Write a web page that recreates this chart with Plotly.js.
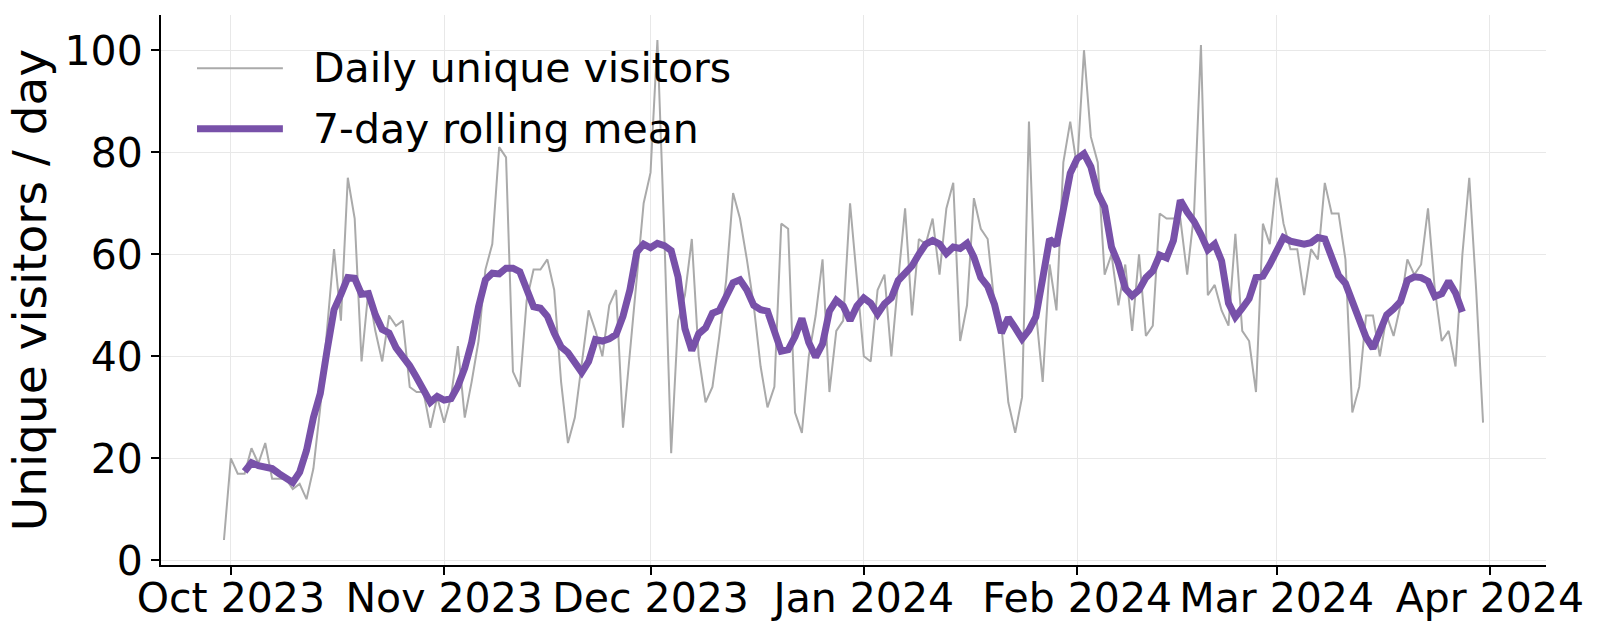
<!DOCTYPE html>
<html>
<head>
<meta charset="utf-8">
<script src="https://cdn.plot.ly/plotly-3.0.1.min.js"></script>
<style>
  html, body { margin: 0; padding: 0; background: #fff; }
  #chart { width: 1600px; height: 635px; }
</style>
</head>
<body>
<div id="chart"></div>
<script>
// daily unique visitors, one array per month
let firstDay = '2023-09-30';
let sep2023 = [4];
let oct2023 = [20, 17, 17, 22, 19, 23, 16, 16, 16, 14, 15, 12, 18, 30, 46, 61, 47, 75, 67, 39,
               53, 45, 39, 48, 46, 47, 34, 33, 33, 26, 32];
let nov2023 = [27, 32, 42, 28, 35, 43, 57, 62, 81, 79, 37, 34, 51, 57, 57, 59, 53, 35, 23, 28,
               38, 49, 45, 40, 50, 53, 26, 41, 55, 70];
let dec2023 = [76, 102, 64, 21, 47, 52, 63, 40, 31, 34, 44, 55, 72, 67, 59, 50, 38, 30, 34, 66,
               65, 29, 25, 40, 48, 59, 33, 45, 47, 70, 55];
let jan2024 = [40, 39, 53, 56, 40, 55, 69, 48, 63, 62, 67, 56, 69, 74, 43, 50, 71, 65, 63, 50,
               46, 31, 25, 32, 86, 49, 35, 58, 49, 78, 86];
let feb2024 = [77, 100, 83, 78, 56, 60, 50, 58, 45, 60, 44, 46, 68, 67, 67, 67, 56, 68, 101, 52,
               54, 49, 46, 64, 45, 43, 33, 66, 62];
let mar2024 = [75, 66, 61, 61, 52, 61, 59, 74, 68, 68, 59, 29, 34, 48, 48, 40, 48, 44, 50, 59,
               56, 58, 69, 53, 43, 45, 38, 60, 75, 53, 27];

let tickVals = ['2023-10-01', '2023-11-01', '2023-12-01', '2024-01-01', '2024-02-01', '2024-03-01', '2024-04-01'];
let tickText = ['Oct 2023', 'Nov 2023', 'Dec 2023', 'Jan 2024', 'Feb 2024', 'Mar 2024', 'Apr 2024'];
let yTicks = [0, 20, 40, 60, 80, 100];

let visitors = [].concat(sep2023, oct2023, nov2023, dec2023, jan2024, feb2024, mar2024);

let dates = [];
let start = new Date(firstDay + 'T00:00:00Z');
for (let i = 0; i < visitors.length; i++) {
    let d = new Date(start.getTime() + i * 86400000);
    dates.push(d.toISOString().slice(0, 10));
}

// centered 7-day rolling mean
let rolling = visitors.map((v, i) => {
    if (i < 3 || i > visitors.length - 4) return null;
    let sum = 0;
    for (let k = i - 3; k <= i + 3; k++) sum += visitors[k];
    return sum / 7;
});

let purple = '#7851a9';
let grey = '#aaaaaa';
let font = 'DejaVu Sans, Liberation Sans, sans-serif';
let tickSize = 41;

let traceDaily = {x: dates, y: visitors, type: 'scatter', mode: 'lines',
                  line: {color: grey, width: 2}, name: 'Daily unique visitors', hoverinfo: 'x+y'};
let traceMean = {x: dates, y: rolling, type: 'scatter', mode: 'lines',
                 line: {color: purple, width: 7}, name: '7-day rolling mean', hoverinfo: 'x+y'};

// legend drawn by hand so the line samples can be as long as in the original
let legendX0 = 0.026, legendX1 = 0.088, legendTextX = 0.108;
let legendRows = [
    {y: 0.903, color: grey, width: 2, text: 'Daily unique visitors'},
    {y: 0.793, color: purple, width: 7, text: '7-day rolling mean'}
];

let layout = {
    width: 1600,
    height: 635,
    margin: {l: 161, r: 54, t: 15, b: 70},
    paper_bgcolor: '#fff',
    plot_bgcolor: '#fff',
    showlegend: false,
    font: {family: font, size: tickSize, color: '#000'},
    xaxis: {
        type: 'date',
        range: ['2023-09-20 20:24', '2024-04-09 03:36'],
        tickvals: tickVals,
        ticktext: tickText,
        showline: true, linecolor: '#000', linewidth: 2,
        ticks: 'outside', ticklen: 8, tickwidth: 2, tickcolor: '#000',
        ticklabelstandoff: -12,
        showgrid: true, gridcolor: '#e8e8e8', gridwidth: 1,
        zeroline: false,
        tickfont: {family: font, size: tickSize, color: '#000'}
    },
    yaxis: {
        range: [-0.9, 106.9],
        tickvals: yTicks,
        showline: true, linecolor: '#000', linewidth: 2,
        ticks: 'outside', ticklen: 8, tickwidth: 2, tickcolor: '#000',
        showgrid: true, gridcolor: '#e8e8e8', gridwidth: 1,
        zeroline: false,
        tickfont: {family: font, size: tickSize, color: '#000'},
        title: {text: 'Unique visitors / day', font: {family: font, size: 47, color: '#000'}, standoff: 3}
    },
    shapes: legendRows.map(r => ({
        type: 'line', xref: 'paper', yref: 'paper',
        x0: legendX0, x1: legendX1, y0: r.y, y1: r.y,
        line: {color: r.color, width: r.width}
    })),
    annotations: legendRows.map(r => ({
        xref: 'paper', yref: 'paper', x: legendTextX, y: r.y,
        xanchor: 'left', yanchor: 'middle', showarrow: false,
        text: r.text, font: {family: font, size: tickSize, color: '#000'}
    }))
};

Plotly.newPlot('chart', [traceDaily, traceMean], layout, {displayModeBar: false, staticPlot: true});
</script>
</body>
</html>
